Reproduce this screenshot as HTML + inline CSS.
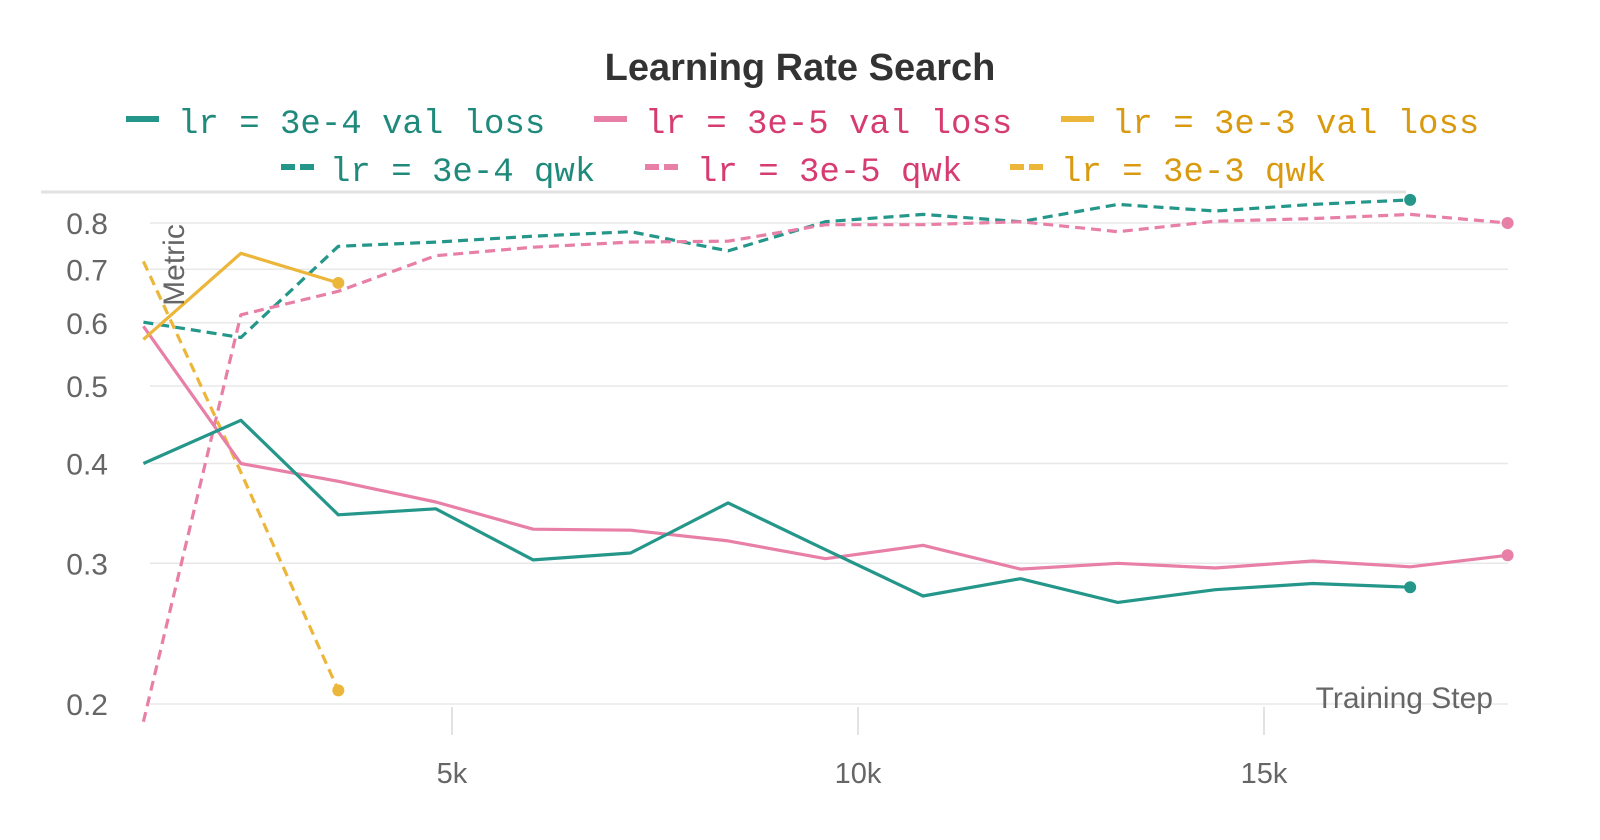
<!DOCTYPE html>
<html><head><meta charset="utf-8"><style>
html,body{margin:0;padding:0;background:#fff;}
svg{display:block;}
</style></head><body>
<svg id="chart" width="1600" height="840" viewBox="0 0 1600 840" xmlns="http://www.w3.org/2000/svg">
<text x="800" y="80" text-anchor="middle" font-family="Liberation Sans, sans-serif" font-weight="bold" font-size="38" fill="#333">Learning Rate Search</text>
<g id="legend" font-family="Liberation Mono, monospace" font-size="34"></g>
<line x1="41" y1="192" x2="1406" y2="192" stroke="#e2e2e2" stroke-width="3"/>
<g id="grid"></g>
<g id="series"></g>
<text transform="translate(184,265) rotate(-90)" text-anchor="middle" font-family="Liberation Sans, sans-serif" font-size="30" fill="#666">Metric</text>
<text x="1493" y="708" text-anchor="end" font-family="Liberation Sans, sans-serif" font-size="30" fill="#666">Training Step</text>
</svg>
<script>
const NS='http://www.w3.org/2000/svg';
const steps=[1.2,2.4,3.6,4.8,6.0,7.2,8.4,9.6,10.8,12.0,13.2,14.4,15.6,16.8,18.0];
const teal_loss=[0.400,0.453,0.345,0.351,0.303,0.309,0.357,0.312,0.273,0.287,0.268,0.278,0.283,0.280];
const teal_qwk=[0.601,0.575,0.748,0.757,0.770,0.780,0.738,0.803,0.820,0.803,0.844,0.828,0.844,0.855];
const pink_loss=[0.594,0.400,0.380,0.358,0.331,0.330,0.320,0.304,0.316,0.295,0.300,0.296,0.302,0.297,0.307];
const pink_qwk=[0.190,0.614,0.657,0.728,0.746,0.757,0.759,0.796,0.796,0.803,0.780,0.804,0.810,0.820,0.800];
const yellow_loss=[0.572,0.733,0.673];
const yellow_qwk=[0.716,0.390,0.208];
const yTicks=[0.2,0.3,0.4,0.5,0.6,0.7,0.8];
const yTickLabels=['0.2','0.3','0.4','0.5','0.6','0.7','0.8'];
const xTicks=[5,10,15];
const xTickLabels=['5k','10k','15k'];
const legendLabels=['lr = 3e-4 val loss','lr = 3e-5 val loss','lr = 3e-3 val loss','lr = 3e-4 qwk','lr = 3e-5 qwk','lr = 3e-3 qwk'];

function xs(k){return 46+81.2*k;}
function ys(v){return 704-347*Math.log(v/0.2);}
function mk(tag,attrs,parent){const e=document.createElementNS(NS,tag);for(const k in attrs)e.setAttribute(k,attrs[k]);parent.appendChild(e);return e;}

const grid=document.getElementById('grid');
yTicks.forEach((v,i)=>{
  const l=mk('line',{x1:150,x2:1508,y1:ys(v),y2:ys(v),stroke:'#e8e8e8','stroke-width':1.5},grid);
  
  
  const t=mk('text',{x:108,y:ys(v)+11,'text-anchor':'end','font-family':'Liberation Sans, sans-serif','font-size':30,fill:'#666'},grid);
  t.textContent=yTickLabels[i];
  
  
});
xTicks.forEach((k,i)=>{
  const l=mk('line',{x1:xs(k),x2:xs(k),y1:707,y2:735,stroke:'#e2e2e2','stroke-width':2},grid);
  
  
  const t=mk('text',{x:xs(k),y:783,'text-anchor':'middle','font-family':'Liberation Sans, sans-serif','font-size':29,fill:'#666'},grid);
  t.textContent=xTickLabels[i];
  
  
});

const TEAL='#24968a',PINK='#e87fa6',YEL='#ebb63a';
const series=[
  {d:teal_qwk,c:TEAL,dash:true,n:'series-3e-4-qwk'},
  {d:pink_qwk,c:PINK,dash:true,n:'series-3e-5-qwk'},
  {d:yellow_qwk,c:YEL,dash:true,n:'series-3e-3-qwk'},
  {d:pink_loss,c:PINK,dash:false,n:'series-3e-5-val-loss'},
  {d:teal_loss,c:TEAL,dash:false,n:'series-3e-4-val-loss'},
  {d:yellow_loss,c:YEL,dash:false,n:'series-3e-3-val-loss'}
];
const sg=document.getElementById('series');
series.forEach(s=>{
  const pts=s.d.map((v,i)=>xs(steps[i]).toFixed(1)+','+ys(v).toFixed(1)).join(' ');
  const p=mk('polyline',{points:pts,fill:'none',stroke:s.c,'stroke-width':3.2,'stroke-linejoin':'round'},sg);
  if(s.dash)p.setAttribute('stroke-dasharray','10 6');
  
  
  const last=s.d.length-1;
  const c=mk('circle',{cx:xs(steps[last]),cy:ys(s.d[last]),r:6,fill:s.c},sg);
  
  
});

const lg=document.getElementById('legend');
const legendItems=[
  {sx:126,tx:178,y:123,c:TEAL,tc:'#1f8a7c',dash:false},
  {sx:594,tx:645,y:123,c:PINK,tc:'#d63b72',dash:false},
  {sx:1061,tx:1112,y:123,c:YEL,tc:'#d99a10',dash:false},
  {sx:281,tx:330,y:171,c:TEAL,tc:'#1f8a7c',dash:true},
  {sx:645,tx:697,y:171,c:PINK,tc:'#d63b72',dash:true},
  {sx:1010,tx:1061,y:171,c:YEL,tc:'#d99a10',dash:true}
];
legendItems.forEach((it,i)=>{
  const g=mk('g',{},lg);
  
  
  const sw=mk('line',{x1:it.sx,x2:it.sx+33,y1:it.y-4,y2:it.y-4,stroke:it.c,'stroke-width':6},g);
  if(it.dash)sw.setAttribute('stroke-dasharray','14 5');
  
  
  const t=mk('text',{x:it.tx,y:it.y+10,fill:it.tc},g);
  t.textContent=legendLabels[i];
  
  
});
</script>
</body></html>
